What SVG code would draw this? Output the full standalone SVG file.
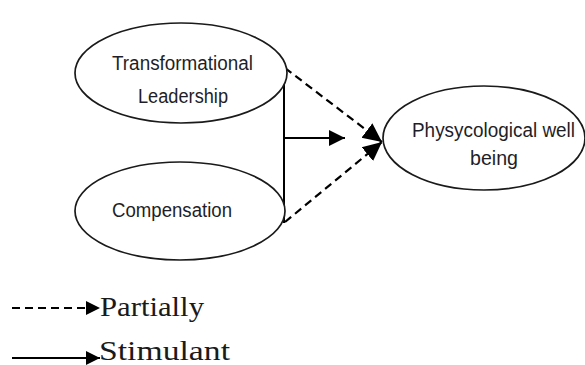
<svg xmlns="http://www.w3.org/2000/svg" width="585" height="365" viewBox="0 0 585 365">
<style>
.node ellipse{fill:#fff;stroke:#1a1a1a;stroke-width:1.7}
.lbl{font-family:"Liberation Sans",Arial,sans-serif;font-size:20px;fill:#1e1e28;text-anchor:middle}
.leg{font-family:"Liberation Serif","Times New Roman",serif;font-size:27px;fill:#1a1a1a}
.solid{stroke:#000;stroke-width:2;fill:none}
.dash{stroke:#000;stroke-width:2.2;fill:none;stroke-dasharray:8 5}
</style>
<defs>
<marker id="ah" markerUnits="userSpaceOnUse" markerWidth="17" markerHeight="16" refX="16" refY="8" orient="auto">
<path d="M0,0 L16,8 L0,16 Z" fill="#000"/>
</marker>
<marker id="ahd" markerUnits="userSpaceOnUse" markerWidth="20" markerHeight="20" refX="19" refY="10" orient="auto">
<path d="M0,1 L19,10 L0,19 Z" fill="#000"/>
</marker>
<marker id="ahs" markerUnits="userSpaceOnUse" markerWidth="15" markerHeight="14" refX="14" refY="7" orient="auto">
<path d="M0,0 L14,7 L0,14 Z" fill="#000"/>
</marker>
</defs>
<rect width="585" height="365" fill="#fff"/>
<g id="connectors">
<line class="solid" x1="284" y1="68" x2="284" y2="223"/>
<line class="solid" x1="284" y1="138" x2="345" y2="138" marker-end="url(#ah)"/>
<line class="dash" x1="285" y1="68" x2="382" y2="142" marker-end="url(#ahd)"/>
<line class="dash" x1="285" y1="222" x2="382" y2="142" marker-end="url(#ahd)"/>
</g>
<g id="n-transformational" class="node">
<ellipse cx="181" cy="73" rx="106" ry="50"/>
<text class="lbl" x="182.5" y="70" textLength="141" lengthAdjust="spacingAndGlyphs">Transformational</text>
<text class="lbl" x="183" y="103" textLength="90" lengthAdjust="spacingAndGlyphs">Leadership</text>
</g>
<g id="n-compensation" class="node">
<ellipse cx="180" cy="211" rx="105" ry="49"/>
<text class="lbl" x="172" y="217" textLength="120" lengthAdjust="spacingAndGlyphs">Compensation</text>
</g>
<g id="n-wellbeing" class="node">
<ellipse cx="484" cy="138" rx="101" ry="52"/>
<text class="lbl" x="493.5" y="137" textLength="163" lengthAdjust="spacingAndGlyphs">Physycological well</text>
<text class="lbl" x="494" y="165" textLength="48" lengthAdjust="spacingAndGlyphs">being</text>
</g>
<g id="legend">
<line class="dash" x1="12" y1="308" x2="100" y2="308" stroke-dasharray="7 4" marker-end="url(#ahs)"/>
<text class="leg" x="100" y="316" textLength="104" lengthAdjust="spacingAndGlyphs">Partially</text>
<line class="solid" x1="12" y1="358" x2="100" y2="358" marker-end="url(#ahs)"/>
<text class="leg" x="99" y="360" textLength="131" lengthAdjust="spacingAndGlyphs">Stimulant</text>
</g>
</svg>
